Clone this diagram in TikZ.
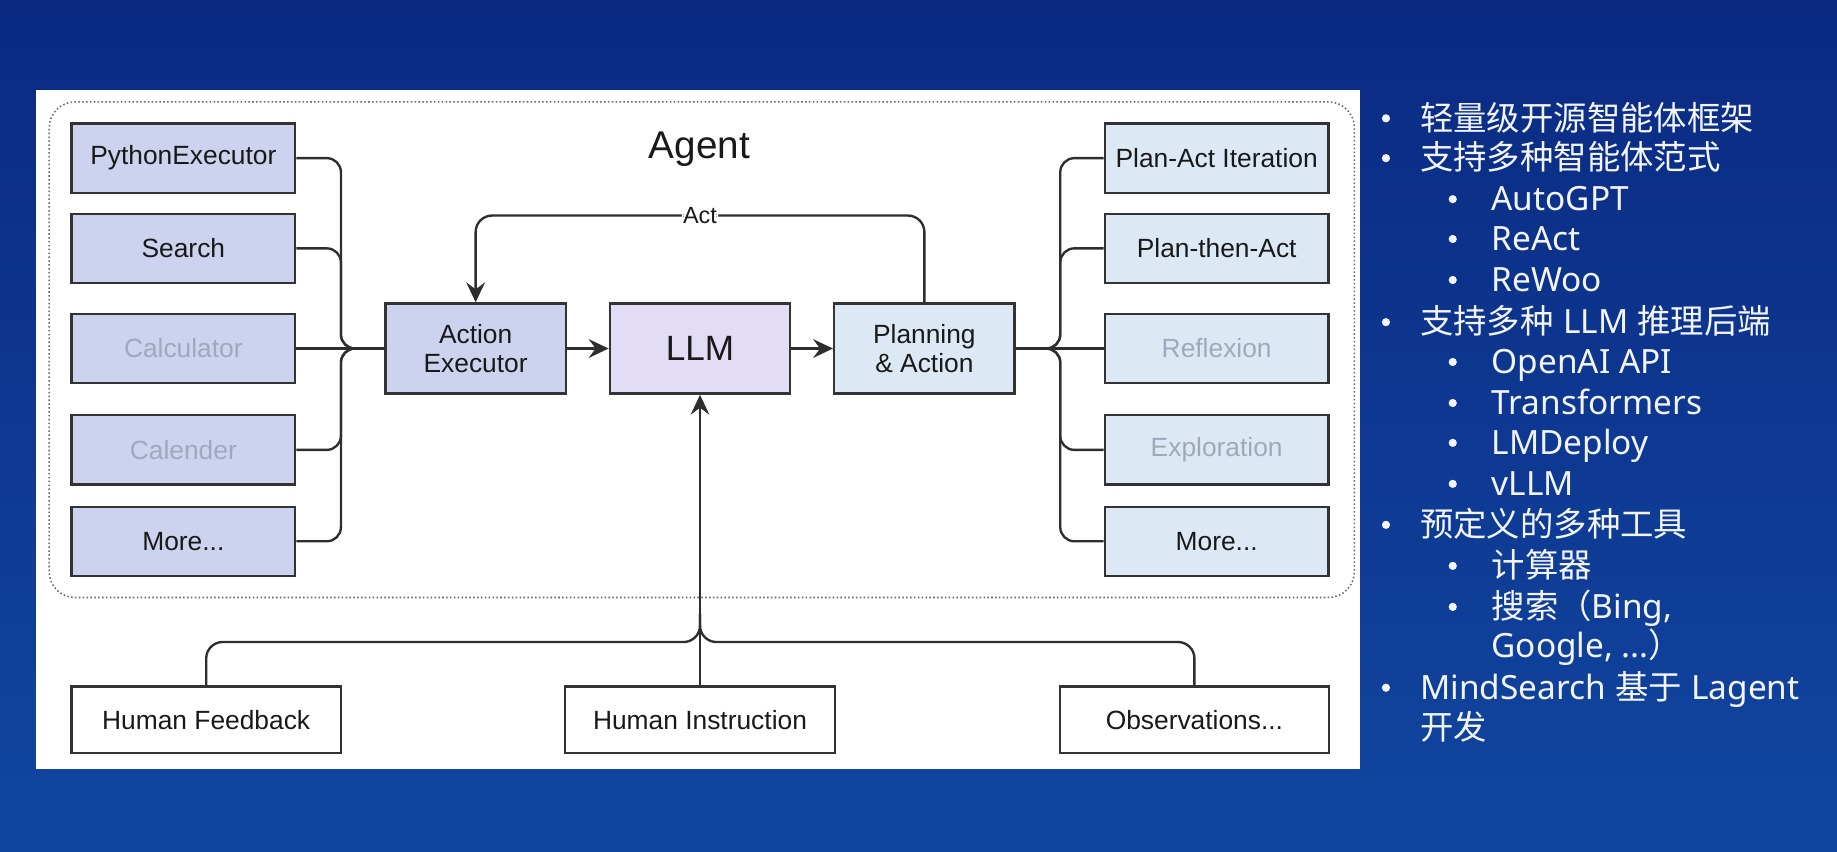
\documentclass[tikz,border=0pt]{standalone}
\usepackage{fontspec}
\setmainfont{Liberation Sans}
\newfontfamily\cjkf{Noto Sans CJK SC}
\newfontfamily\latf{Noto Sans}
\usetikzlibrary{arrows.meta,calc}
\definecolor{bgtop}{HTML}{0A2A82}
\definecolor{bgbot}{HTML}{1146A0}
\definecolor{boxline}{HTML}{333333}
\definecolor{lav}{HTML}{CDD2EE}
\definecolor{llmfill}{HTML}{E2DCF5}
\definecolor{lblue}{HTML}{DCE9F5}
\definecolor{grayt}{HTML}{A0A8BE}
\definecolor{connc}{HTML}{2E2E2E}
\definecolor{rtext}{HTML}{F2F5FF}
\begin{document}
\begin{tikzpicture}[x=1pt,y=-1pt,
  box/.style={draw=boxline, line width=2pt, inner sep=0pt, align=center,
    text=black!90, font=\fontsize{22.5}{25}\selectfont},
  sidebox/.style={box, minimum width=191pt, minimum height=59pt},
  midbox/.style={box, minimum width=154pt, minimum height=77pt},
  botbox/.style={box, fill=white, minimum width=230pt, minimum height=57pt},
  dim/.style={text=grayt},
  conn/.style={draw=connc, line width=2pt},
  thinconn/.style={draw=connc, line width=1.4pt},
  arr/.style={-{Stealth[length=17pt,width=16pt,inset=6pt]}},
  bul/.style={circle, fill=rtext, inner sep=0pt, minimum size=7pt},
  rt/.style={anchor=base west, text=rtext, inner sep=0pt, font=\fontsize{28.5}{32}\selectfont}
]
\useasboundingbox (0,0) rectangle (1568,727);
\shade[top color=bgtop, bottom color=bgbot] (0,0) rectangle (1568,727);
\fill[white] (31,77) rectangle (1161,656);

% agent frame
\node[draw=black!60, dotted, line width=1.3pt, rounded corners=22pt,
  minimum width=1114pt, minimum height=423pt, inner sep=0pt] (frame) at (599,298.5) {};
\node[font=\fontsize{33}{36}\selectfont, text=black!90] (agent) at (597,127) {Agent};

% left tools
\node[sidebox, fill=lav] (pe) at (156.5,135) {PythonExecutor};
\node[sidebox, fill=lav] (se) at (156.5,212) {Search};
\node[sidebox, fill=lav, dim] (ca) at (156.5,297.5) {Calculator};
\node[sidebox, fill=lav, dim] (cl) at (156.5,384) {Calender};
\node[sidebox, fill=lav] (lm) at (156.5,462) {More...};

% middle
\node[midbox, fill=lav] (ae) at (406,297.5) {Action\\Executor};
\node[midbox, fill=llmfill, font=\fontsize{30}{34}\selectfont] (llm) at (597.5,297.5) {LLM};
\node[midbox, fill=lblue] (pa) at (789,297.5) {Planning\\\& Action};

% right paradigms
\node[sidebox, fill=lblue] (r1) at (1038.5,135) {Plan-Act Iteration};
\node[sidebox, fill=lblue] (r2) at (1038.5,212) {Plan-then-Act};
\node[sidebox, fill=lblue, dim] (r3) at (1038.5,297.5) {Reflexion};
\node[sidebox, fill=lblue, dim] (r4) at (1038.5,384) {Exploration};
\node[sidebox, fill=lblue] (r5) at (1038.5,462) {More...};

% bottom
\node[botbox] (hf) at (176,614.5) {Human Feedback};
\node[botbox] (hi) at (597.5,614.5) {Human Instruction};
\node[botbox] (ho) at (1019.5,614.5) {Observations...};

% buses
\coordinate (lbus) at (291,297.5);
\coordinate (rbus) at (905,297.5);
\coordinate (hbus) at (597.5,548);
\coordinate (hjoin) at (597.5,524);
\coordinate (actr) at (789,184);
\coordinate (actl) at (406,184);

\foreach \n in {pe,se,cl,lm}
  \draw[conn, rounded corners=12pt] (\n.east) -| (lbus) -- (ae.west);
\draw[conn] (ca.east) -- (ae.west);

\foreach \n in {r1,r2,r4,r5}
  \draw[conn, rounded corners=12pt] (pa.east) -- (rbus) |- (\n.west);
\draw[conn] (pa.east) -- (r3.west);

\draw[conn, arr] (ae.east) -- (llm.west);
\draw[conn, arr] (llm.east) -- (pa.west);

\draw[conn, arr, rounded corners=14pt] (pa.north) -- (actr) --
  node[fill=white, inner sep=1pt, text=black!90, font=\fontsize{20}{22}\selectfont] (actlbl) {Act}
  (actl) -- (ae.north);

\draw[conn, rounded corners=14pt] (hf.north) |- (hbus) -- (hjoin);
\draw[conn, rounded corners=14pt] (ho.north) |- (hbus) -- (hjoin);
\draw[thinconn, arr] (hi.north) -- (llm.south);

% right text (baselines = line centre + 10)
\node[bul] (b1) at (1183,101) {};  \node[rt] (t1) at (1212,111) {\cjkf 轻量级开源智能体框架};
\node[bul] (b2) at (1183,135) {};  \node[rt] (t2) at (1212,145) {\cjkf 支持多种智能体范式};
\node[bul] (b3) at (1240,170) {};  \node[rt] (t3) at (1273,180) {\latf AutoGPT};
\node[bul] (b4) at (1240,204) {};  \node[rt] (t4) at (1273,214) {\latf ReAct};
\node[bul] (b5) at (1240,239) {};  \node[rt] (t5) at (1273,249) {\latf ReWoo};
\node[bul] (b6) at (1183,275) {};  \node[rt] (t6) at (1212,285) {{\cjkf 支持多种} {\latf LLM} {\cjkf 推理后端}};
\node[bul] (b7) at (1240,309) {};  \node[rt] (t7) at (1273,319) {\latf OpenAI API};
\node[bul] (b8) at (1240,344) {};  \node[rt] (t8) at (1273,354) {\latf Transformers};
\node[bul] (b9) at (1240,378) {};  \node[rt] (t9) at (1273,388) {\latf LMDeploy};
\node[bul] (b10) at (1240,413) {}; \node[rt] (t10) at (1273,423) {\latf vLLM};
\node[bul] (b11) at (1183,448) {}; \node[rt] (t11) at (1212,458) {\cjkf 预定义的多种工具};
\node[bul] (b12) at (1240,483) {}; \node[rt] (t12) at (1273,493) {\cjkf 计算器};
\node[bul] (b13) at (1240,518) {}; \node[rt] (t13) at (1273,528) {{\cjkf 搜索（}{\latf Bing,}};
\node[rt] (t14) at (1273,561) {{\latf Google, ...}{\cjkf ）}};
\node[bul] (b15) at (1183,587) {}; \node[rt] (t15) at (1212,597) {{\latf MindSearch} {\cjkf 基于} {\latf Lagent}};
\node[rt] (t16) at (1212,631) {\cjkf 开发};
\end{tikzpicture}
\end{document}
